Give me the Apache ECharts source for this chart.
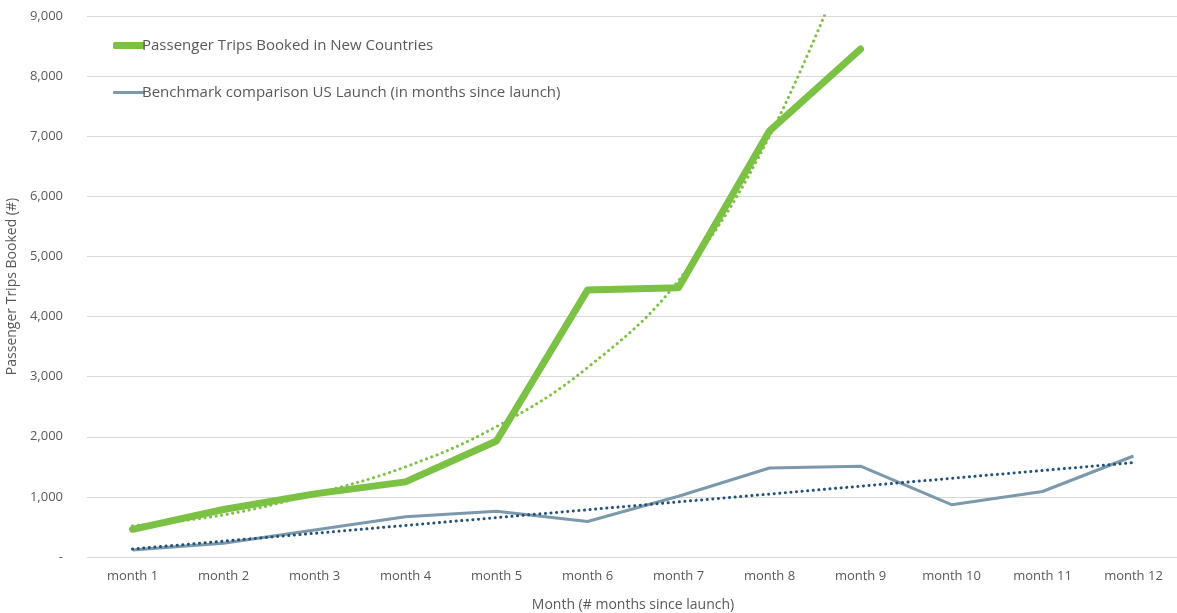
<!DOCTYPE html>
<html>
<head>
<meta charset="utf-8">
<script src="https://cdn.jsdelivr.net/npm/echarts@6/dist/echarts.min.js"></script>
<style>
  html, body { margin: 0; padding: 0; background: #fff; }
  #main { width: 1177px; height: 613px; }
</style>
</head>
<body>
<div id="main"></div>
<script>
// 数据
var months = ["month 1", "month 2", "month 3", "month 4", "month 5", "month 6",
              "month 7", "month 8", "month 9", "month 10", "month 11", "month 12"];
var tripsNew = [460, 790, 1050, 1250, 1930, 4440, 4480, 7090, 8450];
var tripsNewTrend = [520, 700, 1050, 1500, 2170, 3150, 4600, 7000, 10500];
var benchmarkUS = [115, 230, 450, 670, 760, 590, 1010, 1480, 1510, 870, 1090, 1680];
var benchmarkTrend = [133, 264, 394, 525, 655, 786, 917, 1047, 1178, 1309, 1439, 1570];

var txt = '#595959';
var font = "'Open Sans', 'Noto Sans', sans-serif";

var chart = echarts.init(document.getElementById('main'));
var option = {
    animation: false,
    textStyle: {fontFamily: font},
    grid: {left: 87, right: -2, top: 16, bottom: 56, outerBoundsMode: 'none', containLabel: false},
    legend: [{
        left: 108, top: 33, icon: 'roundRect', itemWidth: 32, itemHeight: 7, itemGap: 0,
        textStyle: {color: txt, fontSize: 15, fontFamily: font, padding: [0, 0, 0, -8]},
        data: ['Passenger Trips Booked in New Countries']
    }, {
        left: 108, top: 80, icon: 'roundRect', itemWidth: 32, itemHeight: 3, itemGap: 0,
        textStyle: {color: txt, fontSize: 15, fontFamily: font, padding: [0, 0, 0, -8]},
        data: ['Benchmark comparison US Launch (in months since launch)']
    }],
    xAxis: {
        type: 'category', data: months, boundaryGap: true,
        name: 'Month (# months since launch)', nameLocation: 'middle', nameGap: 41,
        nameTextStyle: {color: txt, fontSize: 14, fontFamily: font},
        axisLine: {show: true, lineStyle: {color: '#d9d9d9'}},
        axisTick: {show: false},
        axisLabel: {color: txt, fontSize: 13, margin: 13, fontFamily: font}
    },
    yAxis: {
        type: 'value', min: 0, max: 9000, interval: 1000,
        name: 'Passenger Trips Booked (#)', nameLocation: 'middle', nameGap: 61, nameRotate: 90,
        nameTextStyle: {color: txt, fontSize: 14, fontFamily: font},
        axisLine: {show: false}, axisTick: {show: false},
        splitLine: {lineStyle: {color: '#d9d9d9'}},
        axisLabel: {
            color: txt, fontSize: 13, margin: 24, fontFamily: font,
            formatter: function(v){ return v === 0 ? '-' : v.toLocaleString('en-US'); }
        }
    },
    series: [{
        name: 'Passenger Trips Booked in New Countries', type: 'line', data: tripsNew,
        showSymbol: false, symbol: 'none', color: '#7BC143',
        lineStyle: {width: 7, color: '#7BC143', cap: 'round', join: 'round'}
    }, {
        name: 'Benchmark comparison US Launch (in months since launch)', type: 'line', data: benchmarkUS,
        showSymbol: false, symbol: 'none', color: '#7C99AC',
        lineStyle: {width: 3, color: '#7C99AC'}
    }, {
        name: 'trendNew', type: 'line', data: tripsNewTrend, smooth: 0.4, clip: true,
        showSymbol: false, symbol: 'none',
        lineStyle: {width: 3, color: '#7BC143', type: [0.1, 5.5], cap: 'round'}
    }, {
        name: 'trendUS', type: 'line', data: benchmarkTrend,
        showSymbol: false, symbol: 'none',
        lineStyle: {width: 3, color: '#24517A', type: [0.1, 5.5], cap: 'round'}
    }]
};
chart.setOption(option);
</script>
</body>
</html>
